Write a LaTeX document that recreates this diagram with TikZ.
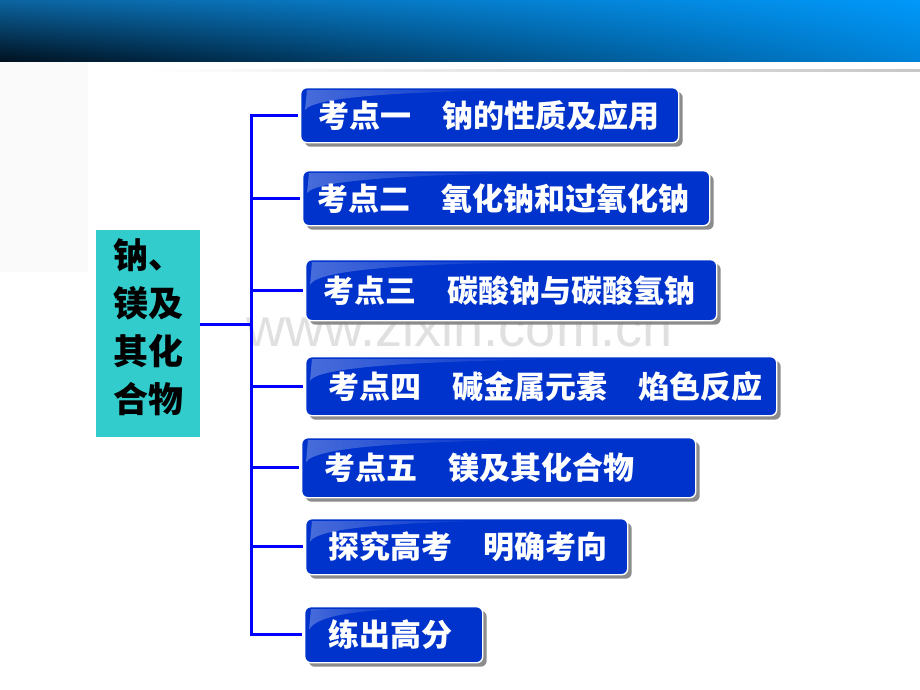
\documentclass[tikz,border=0pt]{standalone}
\usepackage{fontspec}
\setmainfont{Liberation Sans}
\newfontfamily\cjk{Noto Sans CJK SC}
\usetikzlibrary{shadows,shadings,fadings}
\definecolor{boxblue}{RGB}{0,51,204}
\definecolor{linkblue}{RGB}{0,0,255}
\definecolor{tealbox}{RGB}{51,204,204}
\definecolor{bandA}{RGB}{0,16,30}
\definecolor{bandB}{RGB}{12,100,160}
\definecolor{bandC}{RGB}{0,152,250}
\definecolor{bandD}{RGB}{0,130,215}
\tikzset{
  topic/.style={anchor=north west, rounded corners=6pt, fill=boxblue, draw=white,
    line width=1.4pt, text=white, font=\cjk\bfseries\fontsize{31}{36}\selectfont,
    align=left, inner xsep=0pt, inner ysep=0pt,
    drop shadow={shadow xshift=4pt, shadow yshift=-4pt, fill=black!50, opacity=0.9}},
  gloss/.style={fill=white, fill opacity=0.28, path fading=east},
  rootbox/.style={anchor=north west, fill=tealbox, inner sep=0pt},
  roottext/.style={anchor=north west, text=black, inner sep=0pt,
    font=\cjk\bfseries\fontsize{35}{48}\selectfont, align=left},
  conn/.style={draw=linkblue, line width=3pt}
}
\newcommand{\topicbox}[7]{%
  \node[topic, minimum width=#4pt, minimum height=#5pt, text width=#4pt-#6pt] (#1) at (#2,#3) {\hspace*{#6pt}#7};
  \fill[gloss] ({#2+7},{#3+3}) -- ({#2+0.55*#4},{#3+3})
     .. controls ({#2+0.3*#4},{#3+5}) and ({#2+14},{#3+9}) .. ({#2+5},{#3+0.42*#5}) -- cycle;}
\begin{document}
\begin{tikzpicture}[x=1pt,y=-1pt]
\useasboundingbox (0,0) rectangle (920,690);
\fill[white] (0,0) rectangle (920,690);
% top banner
\shade[lower left=bandA, upper left=bandB, upper right=bandC, lower right=bandD] (0,0) rectangle (920,62);
\shade[left color=white, right color=black!22] (140,70) rectangle (920,72);
\fill[black!2] (0,62) rectangle (88,272);
% watermark
\node[anchor=base, text=black!12, font=\fontsize{54}{54}\selectfont, inner sep=0pt] (wm) at (460,346) {www.zixin.com.cn};
% root
\node[rootbox, minimum width=104pt, minimum height=207pt] (root) at (96,230) {};
\node[roottext] (rootlabel) at (113,238) {钠、\\镁及\\其化\\合物};
% topics
\topicbox{b1}{300}{87}{378}{55}{12}{考点一\hspace{1em}钠的性质及应用}
\topicbox{b2}{302}{170}{407}{55}{10}{考点二\hspace{1em}氧化钠和过氧化钠}
\topicbox{b3}{305}{259}{411}{61}{12}{考点三\hspace{1em}碳酸钠与碳酸氢钠}
\topicbox{b4}{305}{356}{471}{59}{15}{考点四\hspace{1em}碱金属元素\hspace{1em}焰色反应}
\topicbox{b5}{301}{437}{394}{60}{15}{考点五\hspace{1em}镁及其化合物}
\topicbox{b6}{305}{518}{322}{56}{15}{探究高考\hspace{1em}明确考向}
\topicbox{b7}{304}{606}{178}{56}{16}{练出高分}
% connectors
\coordinate (tx) at (251,0);
\draw[conn, line cap=rect] (b1.west -| tx) -- (b7.west -| tx);
\foreach \b in {b1,b2,b3,b4,b5,b6,b7}{
  \draw[conn] (\b.west -| tx) -- ([xshift=-2pt]\b.west);
}
\draw[conn] ([yshift=9pt]root.east) -- ([yshift=9pt]root.east -| tx);
\end{tikzpicture}
\end{document}
